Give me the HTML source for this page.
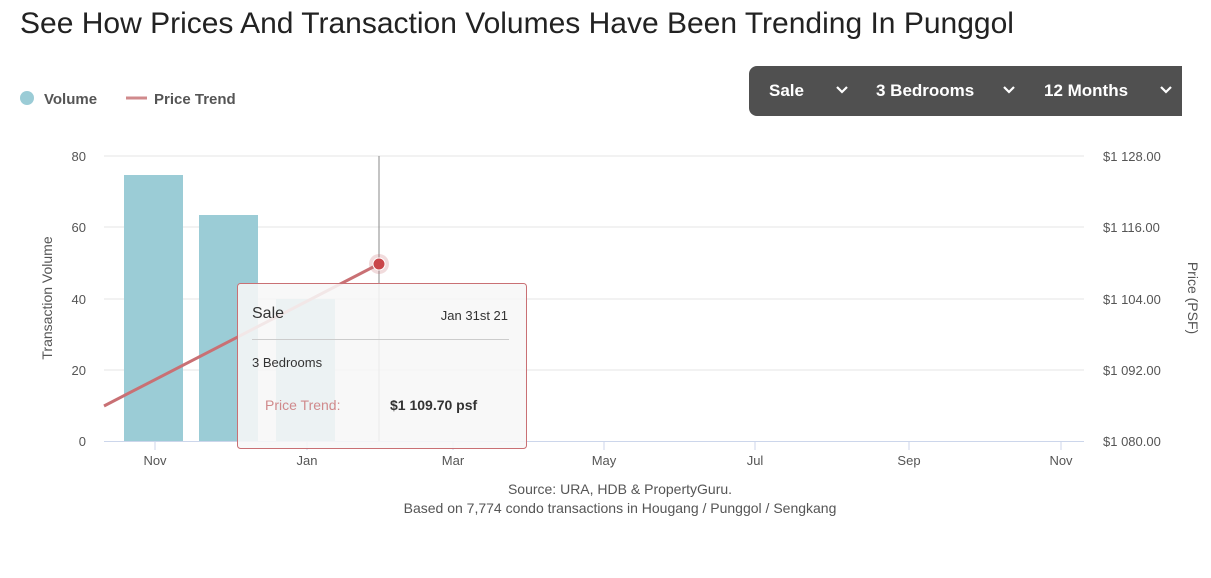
<!DOCTYPE html>
<html><head><meta charset="utf-8"><style>
body{margin:0;width:1211px;height:578px;background:#fff;font-family:"Liberation Sans",sans-serif;position:relative;overflow:hidden}
.t{position:absolute;left:20px;top:7px;font-size:30px;color:#222}
.bar{position:absolute;left:749px;top:66px;width:433px;height:50px;background:#505050;border-radius:8px 0 0 8px;color:#fff;font-weight:bold;font-size:17px}
.bar span{position:absolute;top:15px}
</style></head><body>
<div class="t">See How Prices And Transaction Volumes Have Been Trending In Punggol</div>
<div class="bar"><span style="left:20px">Sale</span><span style="left:127px">3 Bedrooms</span><span style="left:295px">12 Months</span>
<svg width="433" height="50" style="position:absolute;left:0;top:0" fill="none" stroke="#fff" stroke-width="2.2"><polyline points="88,21 93,26 98,21"/><polyline points="255,21 260,26 265,21"/><polyline points="412,21 417,26 422,21"/></svg></div>
<svg width="1211" height="578" style="position:absolute;left:0;top:0" font-family="Liberation Sans, sans-serif">
<circle cx="27" cy="98" r="7" fill="#9bccd6"/>
<text x="44" y="104" font-size="15" font-weight="bold" fill="#555">Volume</text>
<line x1="126" y1="98" x2="147" y2="98" stroke="#d08a8c" stroke-width="3"/>
<text x="154" y="104" font-size="15" font-weight="bold" fill="#555">Price Trend</text>
<g stroke="#e6e6e6"><line x1="104" y1="156" x2="1084" y2="156"/><line x1="104" y1="227" x2="1084" y2="227"/><line x1="104" y1="299" x2="1084" y2="299"/><line x1="104" y1="370" x2="1084" y2="370"/></g>
<line x1="104" y1="441.5" x2="1084" y2="441.5" stroke="#ccd6eb"/>
<g font-size="13" fill="#555" text-anchor="end"><text x="86" y="161">80</text><text x="86" y="232">60</text><text x="86" y="304">40</text><text x="86" y="375">20</text><text x="86" y="446">0</text></g>
<g font-size="13" fill="#555"><text x="1103" y="161">$1 128.00</text><text x="1103" y="232">$1 116.00</text><text x="1103" y="304">$1 104.00</text><text x="1103" y="375">$1 092.00</text><text x="1103" y="446">$1 080.00</text></g>
<text transform="translate(52,298) rotate(-90)" font-size="14" fill="#555" text-anchor="middle">Transaction Volume</text>
<text transform="translate(1188,298) rotate(90)" font-size="14" fill="#555" text-anchor="middle">Price (PSF)</text>
<g font-size="13" fill="#555" text-anchor="middle"><text x="155" y="465">Nov</text><text x="307" y="465">Jan</text><text x="453" y="465">Mar</text><text x="604" y="465">May</text><text x="755" y="465">Jul</text><text x="909" y="465">Sep</text><text x="1061" y="465">Nov</text></g>
<g stroke="#ccd6eb"><line x1="155" y1="441" x2="155" y2="450"/><line x1="307" y1="441" x2="307" y2="450"/><line x1="453" y1="441" x2="453" y2="450"/><line x1="604" y1="441" x2="604" y2="450"/><line x1="755" y1="441" x2="755" y2="450"/><line x1="909" y1="441" x2="909" y2="450"/><line x1="1061" y1="441" x2="1061" y2="450"/></g>
<rect x="124" y="175" width="59" height="266" fill="#9bccd6"/>
<rect x="199" y="215" width="59" height="226" fill="#9bccd6"/>
<rect x="276" y="299" width="59" height="142" fill="#9bccd6"/>
<line x1="379" y1="156" x2="379" y2="441" stroke="#888"/>
<line x1="104" y1="406" x2="379" y2="264" stroke="#c97074" stroke-width="3"/>
<circle cx="379" cy="264" r="10" fill="#c97074" opacity="0.25"/>
<circle cx="379" cy="264" r="6" fill="#c9464a" stroke="#fff"/>
<rect x="237.5" y="283.5" width="289" height="165" rx="3" fill="#f7f7f7" fill-opacity="0.88" stroke="#c97074"/>
<text x="252" y="318" font-size="16" fill="#333">Sale</text>
<text x="508" y="320" font-size="13" fill="#333" text-anchor="end">Jan 31st 21</text>
<line x1="252" y1="339.5" x2="509" y2="339.5" stroke="#ccc"/>
<text x="252" y="367" font-size="13" fill="#333">3 Bedrooms</text>
<text x="265" y="410" font-size="14" fill="#d08a8c">Price Trend:</text>
<text x="390" y="410" font-size="14" font-weight="bold" fill="#333">$1 109.70 psf</text>
<g font-size="14" fill="#555" text-anchor="middle"><text x="620" y="494">Source: URA, HDB &amp; PropertyGuru.</text><text x="620" y="513">Based on 7,774 condo transactions in Hougang / Punggol / Sengkang</text></g>
</svg>
</body></html>
